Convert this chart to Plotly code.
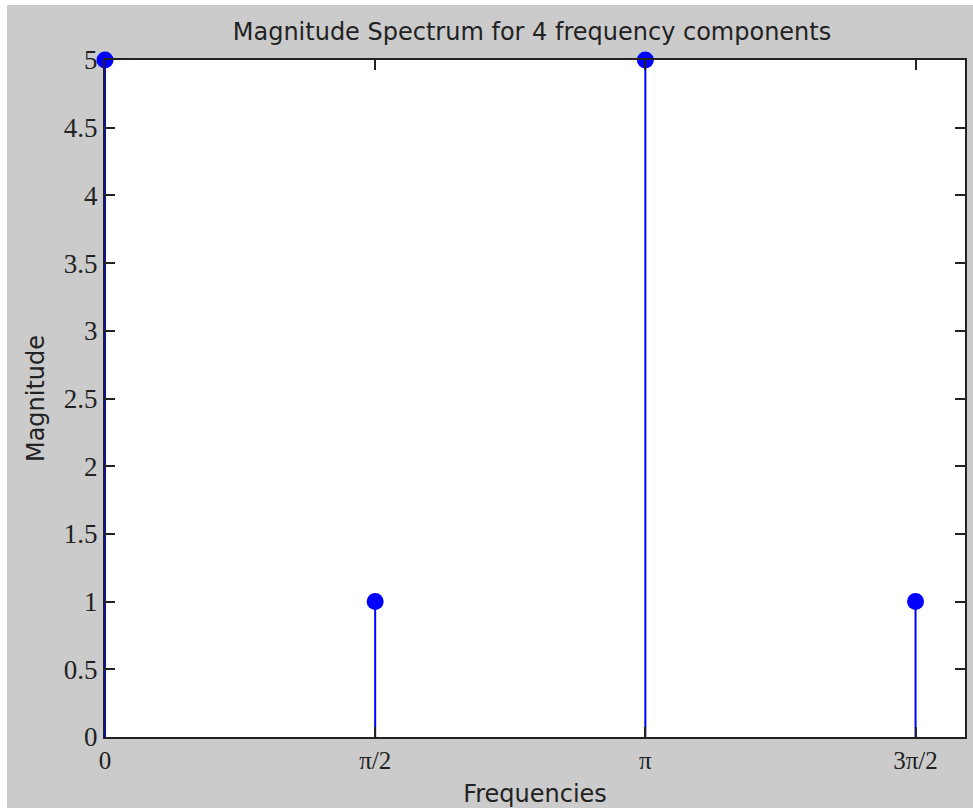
import math
import plotly.graph_objects as go

freqs = [0, math.pi / 2, math.pi, 3 * math.pi / 2]
mags = [5, 1, 5, 1]
xtick_vals = [0, math.pi / 2, math.pi, 3 * math.pi / 2]
xtick_text = ["0", "π/2", "π", "3π/2"]
ytick_vals = [0, 0.5, 1, 1.5, 2, 2.5, 3, 3.5, 4, 4.5, 5]
ytick_text = ["0", "0.5", "1", "1.5", "2", "2.5", "3", "3.5", "4", "4.5", "5"]

stem_x, stem_y = [], []
for f, m in zip(freqs, mags):
    stem_x += [f, f, None]
    stem_y += [0, m, None]

fig = go.Figure()
fig.add_trace(go.Scatter(x=stem_x, y=stem_y, mode="lines",
                         line=dict(color="#0000ff", width=2),
                         hoverinfo="skip", showlegend=False, cliponaxis=False))
fig.add_trace(go.Scatter(x=freqs, y=mags, mode="markers",
                         marker=dict(color="#0000ff", size=17),
                         showlegend=False, cliponaxis=False))

GRAY = "#cbcbcb"
W, H = 973, 808
L, R, T, B = 105, 8, 60, 71
PW, PH = W - L - R, H - T - B
# thin white strips on left and top of the image
fig.add_shape(type="rect", xref="paper", yref="paper", layer="below",
              x0=-L / PW, x1=(7 - L) / PW, y0=-B / PH, y1=(PH + T) / PH,
              fillcolor="white", line=dict(width=0))
fig.add_shape(type="rect", xref="paper", yref="paper", layer="below",
              x0=-L / PW, x1=(W - L) / PW, y0=(PH + T - 5) / PH, y1=(PH + T) / PH,
              fillcolor="white", line=dict(width=0))

TXT = "#222222"
fig.update_layout(
    width=W, height=H,
    margin=dict(l=L, r=R, t=T, b=B, autoexpand=False),
    paper_bgcolor=GRAY,
    plot_bgcolor="white",
    title=dict(text="Magnitude Spectrum for 4 frequency components",
               x=532 / W, xanchor="center", y=1 - 32 / H, yanchor="middle",
               font=dict(family="DejaVu Sans", size=24, color=TXT)),
    xaxis=dict(range=[0, 5], tickmode="array", tickvals=xtick_vals, ticktext=xtick_text,
               ticks="inside", ticklen=10, tickwidth=1.5, tickcolor=TXT,
               mirror="ticks", showline=True, linecolor=TXT, linewidth=2,
               showgrid=False, zeroline=False, automargin=False,
               tickfont=dict(family="Liberation Serif", size=25, color=TXT),
               title=dict(text="Frequencies", standoff=14,
                          font=dict(family="DejaVu Sans", size=24, color=TXT))),
    yaxis=dict(range=[0, 5], tickmode="array", tickvals=ytick_vals, ticktext=ytick_text,
               ticks="inside", ticklen=10, tickwidth=1.5, tickcolor=TXT,
               mirror="ticks", showline=True, linecolor=TXT, linewidth=2,
               showgrid=False, zeroline=False, automargin=False,
               tickfont=dict(family="Liberation Serif", size=27, color=TXT),
               title=dict(text="Magnitude", standoff=12,
                          font=dict(family="DejaVu Sans", size=24, color=TXT))),
)

fig.write_html("out.html")
